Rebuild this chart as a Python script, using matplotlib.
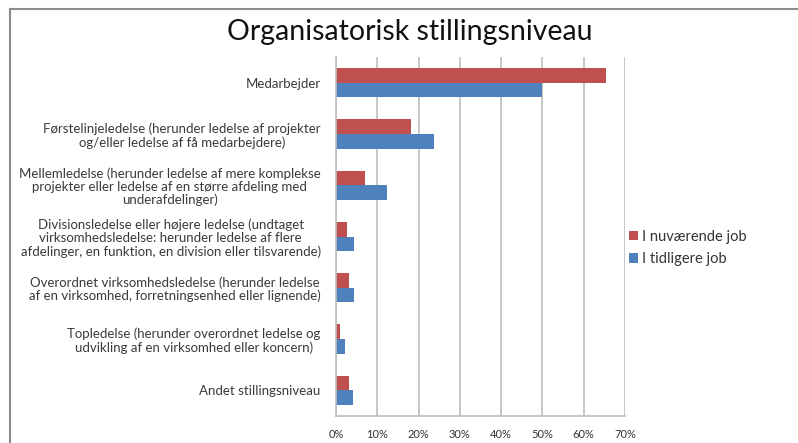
import matplotlib.pyplot as plt
from matplotlib.lines import Line2D
from matplotlib.ticker import FuncFormatter
import numpy as np

plt.rcParams['font.family'] = ['Lato', 'DejaVu Sans']

categories = [
    "Medarbejder",
    "Førstelinjeledelse (herunder ledelse af projekter\nog/eller ledelse af få medarbejdere)",
    "Mellemledelse (herunder ledelse af mere komplekse\nprojekter eller ledelse af en større afdeling med\nunderafdelinger)",
    "Divisionsledelse eller højere ledelse (undtaget\nvirksomhedsledelse: herunder ledelse af flere\nafdelinger, en funktion, en division eller tilsvarende)",
    "Overordnet virksomhedsledelse (herunder ledelse\naf en virksomhed, forretningsenhed eller lignende)",
    "Topledelse (herunder overordnet ledelse og\nudvikling af en virksomhed eller koncern)",
    "Andet stillingsniveau",
]
current_job = [65.4, 18.1, 7.0, 2.7, 3.1, 1.0, 3.1]
previous_job = [50.0, 23.7, 12.3, 4.4, 4.4, 2.2, 4.1]
series_names = ["I nuværende job", "I tidligere job"]
xticks = [0, 10, 20, 30, 40, 50, 60, 70]

fig = plt.figure(figsize=(7.98, 4.43), dpi=100)
ax = fig.add_axes([336 / 798, 1 - 416 / 443, 289 / 798, 359 / 443])

y = np.arange(len(categories))
h = 0.285
ax.barh(y - h / 2, current_job, height=h, color='#C0504D', label=series_names[0])
ax.barh(y + h / 2, previous_job, height=h, color='#4F81BD', label=series_names[1])

ax.set_ylim(len(categories) - 0.5, -0.5)
ax.set_xlim(0, 70)
ax.set_xticks(xticks)
ax.xaxis.set_major_formatter(FuncFormatter(lambda v, p: f"{v:.0f}%"))
ax.grid(axis='x', color='#BEBEBE', lw=1.2)
ax.set_axisbelow(True)
for s in ['top', 'right']:
    ax.spines[s].set_visible(False)
for s in ['left', 'bottom']:
    ax.spines[s].set_color('#BEBEBE')
    ax.spines[s].set_linewidth(1.2)
ax.tick_params(axis='x', length=0, pad=9, labelsize=8, labelcolor='#333333')
ax.tick_params(axis='y', length=0)
ax.set_yticks(y)
ax.set_yticklabels(categories, fontsize=9.5, color='#3A3A3A',
                   multialignment='center', linespacing=1.1)
ax.tick_params(axis='y', pad=11)

ax.legend(loc='center left', bbox_to_anchor=(616 / 798, 1 - 248 / 443),
          bbox_transform=fig.transFigure, frameon=False, fontsize=10.5,
          handlelength=0.6, handleheight=0.6, handletextpad=0.25,
          labelspacing=0.55, labelcolor='#333333')

fig.text(410 / 798, 1 - 32 / 443, "Organisatorisk stillingsniveau",
         ha='center', va='center', fontsize=20.5, color='#111111')

# chart area border (left and top edges visible)
fig.add_artist(Line2D([10 / 798, 10 / 798], [0, 1 - 9 / 443], color='#8C8C8C', lw=1.5))
fig.add_artist(Line2D([10 / 798, 1], [1 - 9 / 443, 1 - 9 / 443], color='#8C8C8C', lw=1.5))

fig.savefig('out.png', dpi=100)
